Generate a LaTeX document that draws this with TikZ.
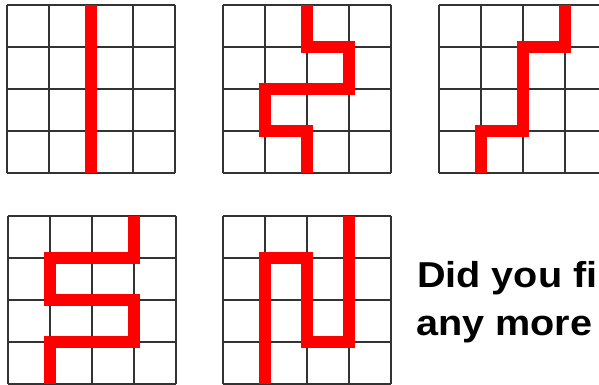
\documentclass[tikz,border=0pt]{standalone}
\usepackage{fontspec}
\setmainfont{Liberation Sans}
\newfontfamily\askfont[FakeStretch=1.1]{Liberation Sans}
\usetikzlibrary{positioning}

\begin{document}
\begin{tikzpicture}[
            x=1pt, y=-1pt,
            cellgrid/.style={draw=black!80, line width=1.3pt, step=42pt},
            route/.style={draw=red, line width=12pt},
            words/.style={font=\askfont\bfseries\fontsize{36}{43}\selectfont, anchor=base west, inner sep=0pt}
        ]
        \useasboundingbox (0,0) rectangle (599,385);
        \clip (0,0) rectangle (599,385);
        % Top row
        \begin{scope}[shift={(7,5)}, x=42pt, y=-42pt]
            \draw[cellgrid] (0,0) grid (4,4);
            \draw[route] (2,0) -- (2,4);
        \end{scope}
        \begin{scope}[shift={(223,5)}, x=42pt, y=-42pt]
            \draw[cellgrid] (0,0) grid (4,4);
            \draw[route] (2,0) -- (2,1) -- (3,1) -- (3,2) -- (1,2) -- (1,3) -- (2,3) -- (2,4);
        \end{scope}
        \begin{scope}[shift={(439,5)}, x=42pt, y=-42pt]
            \draw[cellgrid] (0,0) grid (4,4);
            \draw[route] (3,0) -- (3,1) -- (2,1) -- (2,3) -- (1,3) -- (1,4);
        \end{scope}
        % Bottom row
        \begin{scope}[shift={(8,216)}, x=42pt, y=-42pt]
            \draw[cellgrid] (0,0) grid (4,4);
            \draw[route] (3,0) -- (3,1) -- (1,1) -- (1,2) -- (3,2) -- (3,3) -- (1,3) -- (1,4);
        \end{scope}
        \begin{scope}[shift={(223,216)}, x=42pt, y=-42pt]
            \draw[cellgrid] (0,0) grid (4,4);
            \draw[route] (3,0) -- (3,3) -- (2,3) -- (2,1) -- (1,1) -- (1,4);
        \end{scope}
        % Question
        \node[words] (q1) at (417,287) {Did you fi};
        \node[words] (q2) at (416,335) {any more};
        \end{tikzpicture}
\end{document}
